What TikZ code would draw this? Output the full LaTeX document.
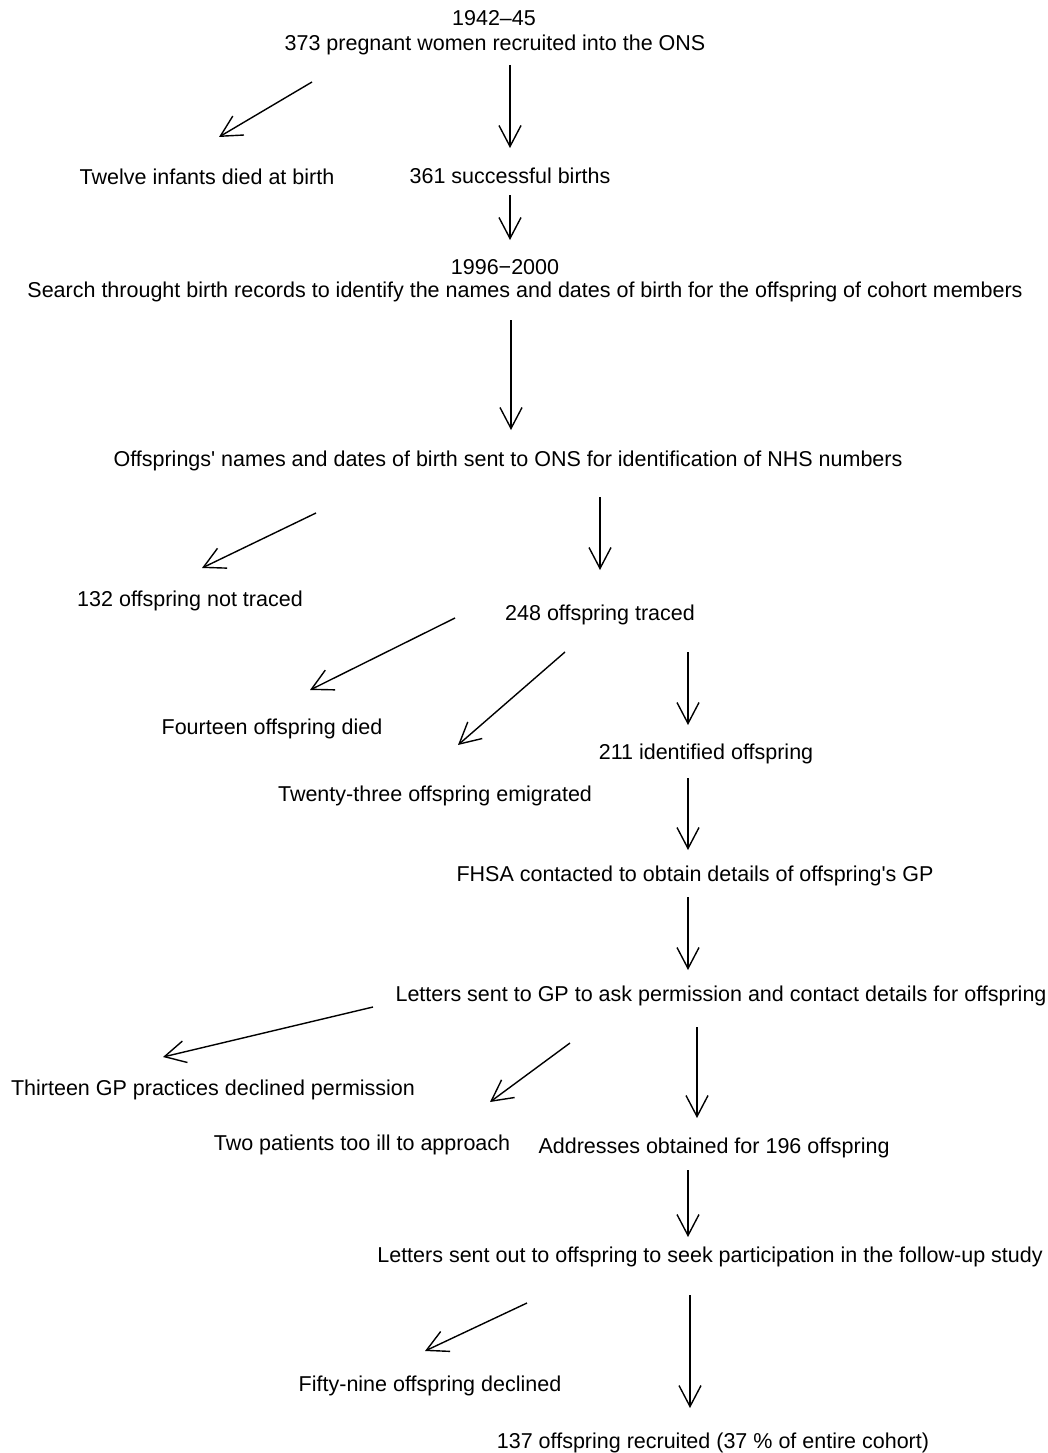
\documentclass[tikz,border=0pt]{standalone}
\usepackage{fontspec}
\setmainfont{Liberation Sans}
\usetikzlibrary{arrows.meta}
\begin{document}
\begin{tikzpicture}[x=1pt,y=-1pt,
  lbl/.style={inner sep=0pt,anchor=center,font=\fontsize{21.5}{25}\selectfont},
  arr/.style={line width=1.4pt,-{Straight Barb[length=21pt,width=22pt,line width=1.4pt]}}]
\useasboundingbox (0,0) rectangle (1048,1453);
\node[lbl] (t1) at (494,18) {1942--45};
\node[lbl] (t2) at (495,45) {373 pregnant women recruited into the ONS};
\node[lbl] (died) at (207,177) {Twelve infants died at birth};
\node[lbl] (births) at (510,176) {361 successful births};
\node[lbl] (t3) at (505,267) {1996−2000};
\node[lbl] (search) at (525,292) {Search throught birth records to identify the names and dates of birth for the offspring of cohort members};
\node[lbl] (sent) at (508,461) {Offsprings\textquotesingle\ names and dates of birth sent to ONS for identification of NHS numbers};
\node[lbl] (nottr) at (190,601) {132 offspring not traced};
\node[lbl] (traced) at (600,615) {248 offspring traced};
\node[lbl] (fourt) at (272,729) {Fourteen offspring died};
\node[lbl] (ident) at (706,754) {211 identified offspring};
\node[lbl] (emig) at (435,796) {Twenty-three offspring emigrated};
\node[lbl] (fhsa) at (695,876) {FHSA contacted to obtain details of offspring\textquotesingle s GP};
\node[lbl] (letgp) at (721,996) {Letters sent to GP to ask permission and contact details for offspring};
\node[lbl] (thirt) at (213,1090) {Thirteen GP practices declined permission};
\node[lbl] (ill) at (362,1145) {Two patients too ill to approach};
\node[lbl] (addr) at (714,1148) {Addresses obtained for 196 offspring};
\node[lbl] (letoff) at (710,1257) {Letters sent out to offspring to seek participation in the follow-up study};
\node[lbl] (fifty) at (430,1386) {Fifty-nine offspring declined};
\node[lbl] (recr) at (713,1443) {137 offspring recruited (37 \% of entire cohort)};
% arrow end points
\coordinate (a1s) at (312,82);  \coordinate (a1e) at (219,137);
\coordinate (a2s) at (510,65);  \coordinate (a2e) at (510,148);
\coordinate (a3s) at (510,195); \coordinate (a3e) at (510,240);
\coordinate (a4s) at (511,320); \coordinate (a4e) at (511,430);
\coordinate (a5s) at (316,513); \coordinate (a5e) at (202,568);
\coordinate (a6s) at (600,497); \coordinate (a6e) at (600,570);
\coordinate (a7s) at (455,618); \coordinate (a7e) at (310,690);
\coordinate (a8s) at (565,652); \coordinate (a8e) at (458,745);
\coordinate (a9s) at (688,652); \coordinate (a9e) at (688,725);
\coordinate (a10s) at (688,778); \coordinate (a10e) at (688,850);
\coordinate (a11s) at (688,897); \coordinate (a11e) at (688,970);
\coordinate (a12s) at (373,1007); \coordinate (a12e) at (163,1057);
\coordinate (a13s) at (570,1043); \coordinate (a13e) at (490,1102);
\coordinate (a14s) at (697,1027); \coordinate (a14e) at (697,1118);
\coordinate (a15s) at (688,1170); \coordinate (a15e) at (688,1237);
\coordinate (a16s) at (527,1303); \coordinate (a16e) at (425,1351);
\coordinate (a17s) at (690,1295); \coordinate (a17e) at (690,1408);
\foreach \i in {1,...,17} {\draw[arr] (a\i s) -- (a\i e);}
\end{tikzpicture}
\end{document}
